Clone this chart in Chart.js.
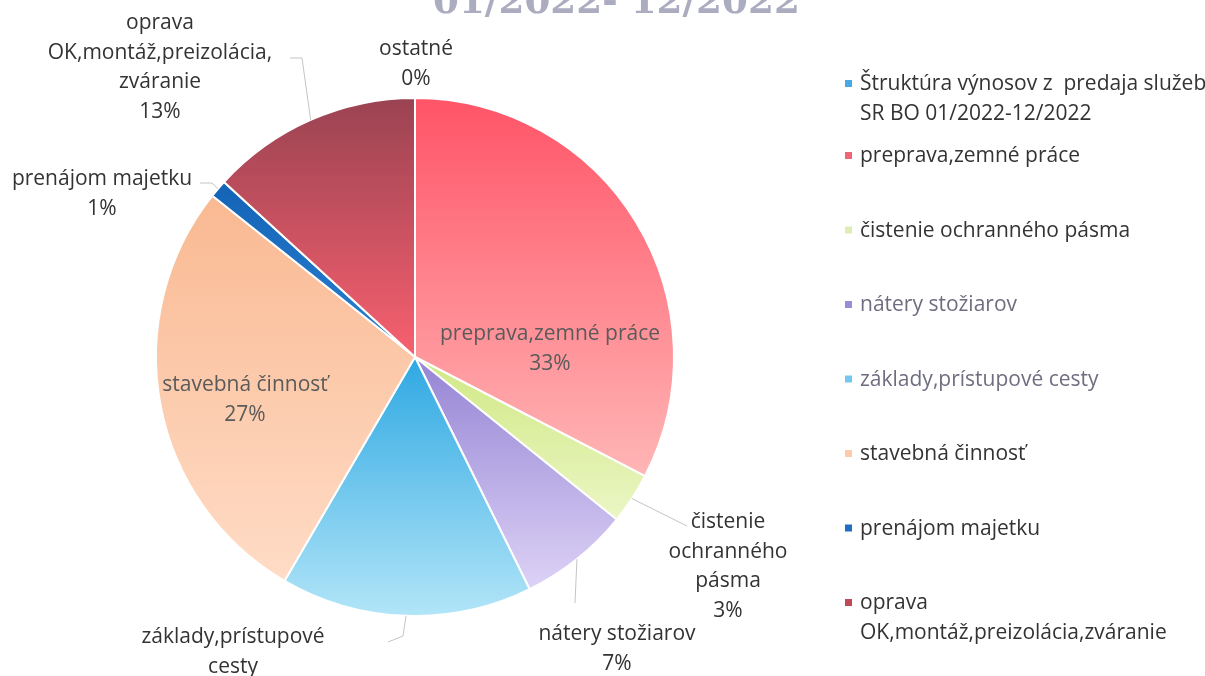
<!DOCTYPE html>
<html lang="sk">
<head>
<meta charset="utf-8">
<title>Štruktúra výnosov</title>
<script src="https://cdn.jsdelivr.net/npm/chart.js@4/dist/chart.umd.min.js"></script>
<style>
  html, body { margin: 0; background: #fff; }
  canvas { display: block; }
</style>
</head>
<body>
<canvas id="graf" width="1205" height="676"></canvas>
<script>
// kategórie (legenda) - zalomenie riadkov ako v origináli
const kategorie = [
  "Štruktúra výnosov z  predaja služeb\nSR BO 01/2022-12/2022",
  "preprava,zemné práce",
  "čistenie ochranného pásma",
  "nátery stožiarov",
  "základy,prístupové cesty",
  "stavebná činnosť",
  "prenájom majetku",
  "oprava\nOK,montáž,preizolácia,zváranie"
];
// popisy pri výsekoch
const popisy = [
  "ostatné",
  "preprava,zemné práce",
  "čistenie\nochranného\npásma",
  "nátery stožiarov",
  "základy,prístupové\ncesty",
  "stavebná činnosť",
  "prenájom majetku",
  "oprava\nOK,montáž,preizolácia,\nzváranie"
];
// podiel v % (odčítané z grafu)
const podiely = [0, 32.6, 3.2, 6.9, 15.7, 27.3, 1.1, 13.2];
const titulok = "01/2022- 12/2022";

// farby - prechod zhora nadol
const farbyHore = ["#4aa8e6", "#ff5467", "#d0e884", "#9484d4", "#2ea8e2", "#f9b992", "#1464b6", "#9a4352"];
const farbyDole = ["#8ccaf0", "#ffb6b6", "#ebf6c4", "#ddd2f6", "#b2e5f8", "#ffdcc6", "#2a80d2", "#f8606f"];
const farbyLegendy = ["#4aa8e6", "#f06474", "#dceeb4", "#9a8cd8", "#74c8f0", "#ffcaa8", "#1e6ec8", "#c04858"];
const farbyTextuLegendy = ["#333", "#333", "#333", "#6e6e80", "#6e6e80", "#333", "#333", "#333"];

const PISMO = "'Open Sans', Lato, sans-serif";
const VELKOST = 21;
const RIADOK = 29.5;

// umiestnenie popisov (prvý riadok - účiaria) a vodiace čiary
const rozlozenie = [
  { x: 416, y: 55 },
  { x: 550, y: 340, vnutri: true },
  { x: 728, y: 528, ciara: [[687, 526]] },
  { x: 617, y: 640, ciara: [[575, 603]] },
  { x: 233, y: 643, ciara: [[403, 636], [388, 642]] },
  { x: 245, y: 391, vnutri: true },
  { x: 102, y: 185, ciara: [[212, 183], [200, 183]] },
  { x: 160, y: 29, ciara: [[302, 58], [290, 58]] }
];

function vypln(ctx) {
  const i = ctx.dataIndex;
  const chart = ctx.chart;
  const area = chart.chartArea;
  if (ctx.type !== "data" || !area) return farbyHore[i];
  const meta = chart.getDatasetMeta(0);
  const r = meta.controller.outerRadius || (area.bottom - area.top) / 2;
  const cx = (area.left + area.right) / 2;
  const cy = (area.top + area.bottom) / 2;
  const data = chart.data.datasets[0].data;
  const spolu = data.reduce((a, b) => a + b, 0);
  const pred = data.slice(0, i).reduce((a, b) => a + b, 0);
  const a0 = -Math.PI / 2 + 2 * Math.PI * pred / spolu;
  const a1 = a0 + 2 * Math.PI * data[i] / spolu;
  const ys = [cy, cy + r * Math.sin(a0), cy + r * Math.sin(a1)];
  const obsahuje = (a) => { for (let k = -1; k <= 1; k++) { const b = a + k * 2 * Math.PI; if (b >= a0 && b <= a1) return true; } return false; };
  if (obsahuje(Math.PI / 2)) ys.push(cy + r);
  if (obsahuje(-Math.PI / 2)) ys.push(cy - r);
  const y0 = Math.min(...ys), y1 = Math.max(...ys);
  if (y1 - y0 < 1) return farbyHore[i];
  const g = chart.ctx.createLinearGradient(0, y0, 0, y1);
  g.addColorStop(0, farbyHore[i]);
  g.addColorStop(1, farbyDole[i]);
  return g;
}

const popisyVysekov = {
  id: "popisyVysekov",
  afterDatasetsDraw(chart) {
    const c = chart.ctx;
    const oblu = chart.getDatasetMeta(0).data;
    const spolu = podiely.reduce((a, b) => a + b, 0);
    c.save();
    c.font = `${VELKOST}px ${PISMO}`;
    c.textAlign = "center";
    c.textBaseline = "alphabetic";
    oblu.forEach((arc, i) => {
      const p = rozlozenie[i];
      if (p.ciara) {
        const { x, y, startAngle, endAngle, outerRadius } = arc.getProps(["x", "y", "startAngle", "endAngle", "outerRadius"], true);
        const stred = (startAngle + endAngle) / 2;
        c.beginPath();
        c.moveTo(x + Math.cos(stred) * outerRadius, y + Math.sin(stred) * outerRadius);
        p.ciara.forEach(([lx, ly]) => c.lineTo(lx, ly));
        c.strokeStyle = "#c4c4c4";
        c.lineWidth = 1;
        c.stroke();
      }
      const riadky = popisy[i].split("\n").concat(Math.round(podiely[i] / spolu * 100) + "%");
      c.fillStyle = p.vnutri ? "#5a5a5a" : "#333333";
      riadky.forEach((t, k) => c.fillText(t, p.x, p.y + k * RIADOK));
    });
    c.restore();
  },
  afterDraw(chart) {
    const c = chart.ctx;
    c.save();
    // titulok (orezaný hornou hranou)
    c.font = "bold 40px 'DejaVu Serif', serif";
    const w = c.measureText(titulok).width;
    const vel = 40 * 367 / w;
    c.font = `bold ${vel}px 'DejaVu Serif', serif`;
    c.fillStyle = "#acacc0";
    c.textAlign = "left";
    c.fillText(titulok, 433, 13);

    // legenda
    c.font = `${VELKOST}px ${PISMO}`;
    kategorie.forEach((t, i) => {
      const y = i === 0 ? 90 : 162 + (i - 1) * 74.5;
      c.fillStyle = farbyLegendy[i];
      c.fillRect(845, y - 10, 7, 7);
      c.fillStyle = farbyTextuLegendy[i];
      t.split("\n").forEach((r, k) => c.fillText(r, 860, y + k * RIADOK));
    });
    c.restore();
  }
};

new Chart(document.getElementById("graf"), {
  type: "pie",
  data: {
    labels: kategorie.map(k => k.replace("\n", " ")),
    datasets: [{
      data: podiely,
      backgroundColor: vypln,
      borderColor: "#ffffff",
      borderWidth: 2,
      hoverOffset: 0
    }]
  },
  options: {
    responsive: false,
    devicePixelRatio: 1,
    animation: false,
    radius: 259,
    layout: { padding: { left: 156, right: 531, top: 98, bottom: 60 } },
    plugins: {
      legend: { display: false },
      title: { display: false },
      tooltip: { enabled: false }
    }
  },
  plugins: [popisyVysekov]
});
</script>
</body>
</html>
